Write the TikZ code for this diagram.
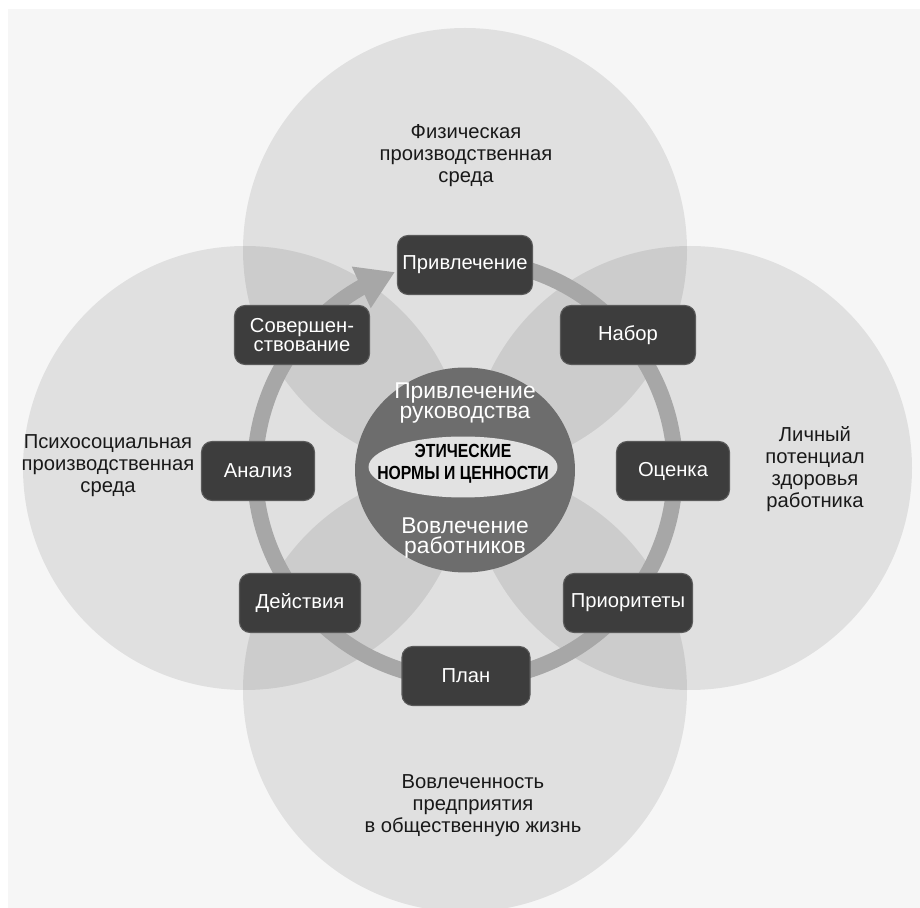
\documentclass[tikz,border=0pt]{standalone}
\usepackage{fontspec}
\setmainfont{Liberation Sans}
\newfontfamily\narrowfont[FakeStretch=0.83]{Liberation Sans}
\usetikzlibrary{arrows.meta,bending,shapes.geometric}

\definecolor{bggray}{HTML}{F6F6F6}
\definecolor{boxgray}{HTML}{3D3D3D}
\definecolor{ringgray}{HTML}{A7A7A7}
\definecolor{coregray}{HTML}{6D6D6D}
\definecolor{innergray}{HTML}{E2E2E2}

\begin{document}
\begin{tikzpicture}[x=0.02cm, y=-0.02cm,
        stage/.style={draw=boxgray!85!white, line width=0.6pt, fill=boxgray,
            rounded corners=6pt, text=white, align=center, inner sep=0pt,
            minimum height=1.18cm, font=\fontsize{11.5}{10.5}\selectfont},
        area/.style={fill=black, fill opacity=0.085},
        arealabel/.style={align=center, text=black!90, font=\fontsize{11.5}{12.5}\selectfont},
        corelabel/.style={align=center, text=white, font=\fontsize{13}{11.8}\selectfont}]
    % Background
    \fill[white] (0,0) rectangle (920,908);
    \fill[bggray] (8,9) rectangle (920,908);
    \useasboundingbox (0,0) rectangle (920,908);

    % Four overlapping areas
    \foreach \cx/\cy in {465/250, 245/468, 690/468, 465/690} {
            \fill[area] (\cx,\cy) circle (222);
        }

    % Cycle ring with arrow
    \draw[ringgray, line width=0.32cm, -{Triangle[length=0.74cm, width=0.86cm]}]
        (465,470) ++(-80:210) arc[start angle=-80, end angle=250.5, radius=210];

    % Core
    \node[ellipse, fill=coregray, minimum width=4.4cm, minimum height=4.1cm] (core) at (465,470) {};
    \node[ellipse, fill=innergray, minimum width=3.78cm, minimum height=1.22cm] (ethics) at (463,467) {};
    \node[align=center, font=\narrowfont\bfseries\fontsize{10.8}{12.5}\selectfont] (ethicstext) at (463,464)
        {ЭТИЧЕСКИЕ\\НОРМЫ И ЦЕННОСТИ};
    \node[corelabel] (leaders) at (465,403) {Привлечение\\руководства};
    \node[corelabel] (workers) at (465,538) {Вовлечение\\работников};

    % Stages
    \foreach \name/\x/\y/\w/\txt in {attract/465/265/135/Привлечение, recruit/628/335/135/Набор,
            assess/673/471/113/Оценка, priority/628/603/129/Приоритеты, plan/466/676/128/План,
            act/300/603/121/Действия, analyse/258/471/113/Анализ} {
            \node[stage, minimum width=\w*0.02cm] (\name) at (\x,\y) {\txt};
        }
    \node[stage, minimum width=2.7cm] (improve) at (302,335) {Совершен-\\ствование};

    % Area labels
    \node[arealabel] (physical) at (466,156) {Физическая\\производственная\\среда};
    \node[arealabel] (psycho) at (108,466) {Психосоциальная\\производственная\\среда};
    \node[arealabel] (personal) at (815,469) {Личный\\потенциал\\здоровья\\работника};
    \node[arealabel] (community) at (473,806) {Вовлеченность\\предприятия\\в общественную жизнь};
\end{tikzpicture}
\end{document}
